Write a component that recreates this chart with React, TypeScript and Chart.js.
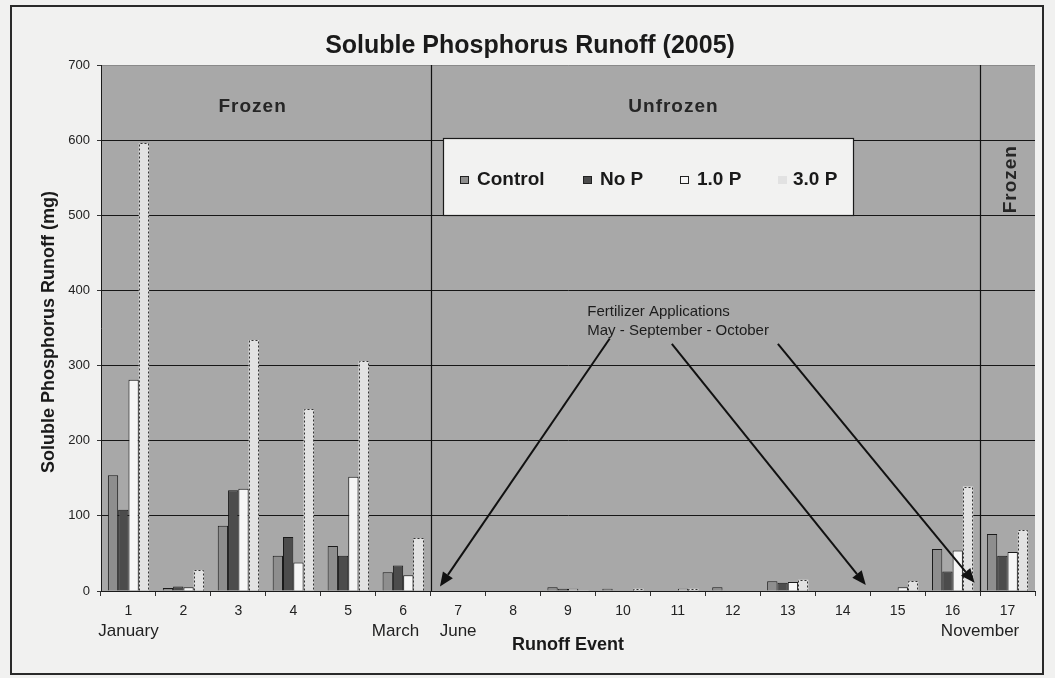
import React, { useEffect, useRef } from 'react';
import { Chart, registerables } from 'chart.js';

Chart.register(...registerables);

// ---- data ----
const events = ['1', '2', '3', '4', '5', '6', '7', '8', '9', '10', '11', '12', '13', '14', '15', '16', '17'];
const seriesNames = ['Control', 'No P', '1.0 P', '3.0 P'];
const control = [154, 4, 87, 47, 60, 25, 0, 0, 5, 3, 0, 5, 13, 0, 0, 56, 76];
const noP = [108, 6, 134, 72, 47, 34, 0, 0, 3, 0, 0, 0, 11, 0, 0, 26, 47];
const p10 = [281, 5, 136, 38, 152, 21, 0, 0, 3, 0, 3, 0, 12, 0, 5, 54, 52];
const p30 = [596, 28, 334, 242, 306, 70, 0, 0, 1, 3, 3, 0, 15, 0, 13, 139, 81];
const yTicks = [0, 100, 200, 300, 400, 500, 600, 700];
const monthLabels = ['January', 'March', 'June', 'November'];

const TITLE = 'Soluble Phosphorus Runoff (2005)';
const Y_TITLE = 'Soluble Phosphorus Runoff (mg)';
const X_TITLE = 'Runoff Event';
const NOTE = ['Fertilizer Applications', 'May - September - October'];

const FONT = '"Liberation Sans", Arial, sans-serif';

function arrow(ctx: CanvasRenderingContext2D, x1: number, y1: number, x2: number, y2: number) {
  const ang = Math.atan2(y2 - y1, x2 - x1);
  const len = 14;
  const hw = 6;
  const bx = x2 - len * Math.cos(ang);
  const by = y2 - len * Math.sin(ang);
  ctx.beginPath();
  ctx.moveTo(x1, y1);
  ctx.lineTo(bx, by);
  ctx.strokeStyle = '#111';
  ctx.lineWidth = 2;
  ctx.stroke();
  ctx.beginPath();
  ctx.moveTo(x2, y2);
  ctx.lineTo(bx + hw * Math.sin(ang), by - hw * Math.cos(ang));
  ctx.lineTo(bx - hw * Math.sin(ang), by + hw * Math.cos(ang));
  ctx.closePath();
  ctx.fillStyle = '#111';
  ctx.fill();
}

const decor = {
  id: 'decor',
  beforeDraw(chart: any) {
    const { ctx, chartArea: ca, width, height } = chart;
    ctx.save();
    ctx.fillStyle = '#f1f1f0';
    ctx.fillRect(0, 0, width, height);
    ctx.strokeStyle = '#2a2a2a';
    ctx.lineWidth = 2;
    ctx.strokeRect(11, 6, 1032, 668);
    ctx.fillStyle = '#a8a8a8';
    ctx.fillRect(ca.left, ca.top, ca.right - ca.left, ca.bottom - ca.top);
    ctx.restore();
  },
  afterDatasetsDraw(chart: any) {
    const { ctx, chartArea: ca } = chart;
    const xs = chart.scales.x;
    const ys = chart.scales.y;
    const X = (i: number) => xs.getPixelForValue(i);
    const Y = (v: number) => ys.getPixelForValue(v);
    ctx.save();

    // dotted outline of 3.0 P bars
    const meta = chart.getDatasetMeta(3);
    ctx.setLineDash([2, 2]);
    ctx.strokeStyle = '#333';
    ctx.lineWidth = 1;
    meta.data.forEach((bar: any) => {
      const p = bar.getProps(['x', 'y', 'base', 'width'], true);
      if (p.base - p.y < 0.5) return;
      const l = Math.round(p.x - p.width / 2) + 0.5;
      const r = Math.round(p.x + p.width / 2) - 0.5;
      const t = Math.round(p.y) + 0.5;
      ctx.beginPath();
      ctx.moveTo(l, p.base);
      ctx.lineTo(l, t);
      ctx.lineTo(r, t);
      ctx.lineTo(r, p.base);
      ctx.stroke();
    });
    ctx.setLineDash([]);

    // dividers between frozen / unfrozen periods
    ctx.strokeStyle = '#111';
    ctx.lineWidth = 1.2;
    [5.5, 15.5].forEach((b) => {
      const x = Math.round(X(b)) + 0.5;
      ctx.beginPath();
      ctx.moveTo(x, ca.top);
      ctx.lineTo(x, ca.bottom);
      ctx.stroke();
    });

    // period labels
    ctx.fillStyle = '#262626';
    ctx.font = `bold 19px ${FONT}`;
    ctx.textAlign = 'center';
    ctx.textBaseline = 'middle';
    (ctx as any).letterSpacing = '1px';
    ctx.fillText('Frozen', X(2.26), Y(645));
    ctx.fillText('Unfrozen', X(9.92), Y(645));
    ctx.save();
    ctx.translate(X(16.05), Y(548));
    ctx.rotate(-Math.PI / 2);
    ctx.fillText('Frozen', 0, 0);
    ctx.restore();
    (ctx as any).letterSpacing = '0px';

    // fertilizer note + arrows
    ctx.fillStyle = '#1c1c1c';
    ctx.font = `15px ${FONT}`;
    ctx.textAlign = 'left';
    ctx.fillText(NOTE[0], X(8.35), Y(371));
    ctx.fillText(NOTE[1], X(8.35), Y(346));
    arrow(ctx, X(8.76), Y(336), X(5.67), Y(6));
    arrow(ctx, X(9.89), Y(329), X(13.42), Y(8));
    arrow(ctx, X(11.82), Y(329), X(15.4), Y(11));

    // legend box
    const lx = ca.left + 342;
    const ly = ca.top + 73;
    ctx.fillStyle = '#f2f2f1';
    ctx.fillRect(lx, ly, 410, 77);
    ctx.strokeStyle = '#1a1a1a';
    ctx.lineWidth = 1.2;
    ctx.strokeRect(lx + 0.5, ly + 0.5, 410, 77);
    const offs = [17, 140, 237, 335];
    ctx.font = `bold 19px ${FONT}`;
    ctx.textBaseline = 'middle';
    chart.data.datasets.forEach((ds: any, i: number) => {
      const sx = lx + offs[i];
      const sy = ly + 42;
      ctx.fillStyle = ds.backgroundColor;
      ctx.fillRect(sx, sy - 4, 9, 8);
      if (i < 3) {
        ctx.strokeStyle = '#222';
        ctx.lineWidth = 1;
        ctx.strokeRect(sx + 0.5, sy - 3.5, 8, 7);
      }
      ctx.fillStyle = '#1a1a1a';
      ctx.fillText(ds.label, sx + (i === 3 ? 15 : 17), sy);
    });
    ctx.restore();
  },
  afterDraw(chart: any) {
    const { ctx, chartArea: ca } = chart;
    const xs = chart.scales.x;
    const X = (i: number) => xs.getPixelForValue(i);
    ctx.save();
    ctx.fillStyle = '#1a1a1a';
    ctx.textAlign = 'center';
    ctx.textBaseline = 'middle';
    ctx.font = `bold 25px ${FONT}`;
    ctx.fillText(TITLE, 530, 46);

    ctx.save();
    ctx.translate(49, (ca.top + ca.bottom) / 2 + 4);
    ctx.rotate(-Math.PI / 2);
    ctx.font = `bold 18px ${FONT}`;
    ctx.fillText(Y_TITLE, 0, 0);
    ctx.restore();

    ctx.font = `bold 18px ${FONT}`;
    ctx.fillText(X_TITLE, (ca.left + ca.right) / 2, ca.bottom + 54);

    ctx.font = `17px ${FONT}`;
    ctx.fillStyle = '#222';
    const mPos = [0, 4.86, 6, 15.5];
    monthLabels.forEach((m, i) => ctx.fillText(m, X(mPos[i]), ca.bottom + 40));
    ctx.restore();
  },
};

export default function App() {
  const ref = useRef<HTMLCanvasElement>(null);
  useEffect(() => {
    if (!ref.current) return;
    const chart = new Chart(ref.current, {
      type: 'bar',
      data: {
        labels: events,
        datasets: [
          { label: seriesNames[0], data: control, backgroundColor: '#8e8e8e', borderColor: '#1a1a1a', borderWidth: 1 },
          { label: seriesNames[1], data: noP, backgroundColor: '#4c4c4c', borderColor: '#1a1a1a', borderWidth: 1 },
          { label: seriesNames[2], data: p10, backgroundColor: '#f6f6f6', borderColor: '#1a1a1a', borderWidth: 1 },
          { label: seriesNames[3], data: p30, backgroundColor: '#e2e2e2', borderWidth: 0 },
        ],
      },
      options: {
        responsive: false,
        animation: false,
        layout: { padding: { left: 0, top: 65, right: 20, bottom: 0 } },
        datasets: { bar: { categoryPercentage: 0.75, barPercentage: 1 } },
        plugins: { legend: { display: false }, tooltip: { enabled: false }, title: { display: false } },
        scales: {
          x: {
            afterFit: (s: any) => { s.height = 87; },
            grid: { drawOnChartArea: false, tickLength: 5, color: '#333' },
            border: { display: true, color: '#1a1a1a', width: 1 },
            ticks: { font: { family: FONT, size: 14 }, color: '#222', padding: 7, maxRotation: 0, autoSkip: false },
          },
          y: {
            min: 0,
            max: 700,
            afterFit: (s: any) => { s.width = 101; },
            afterBuildTicks: (s: any) => { s.ticks = yTicks.map((v) => ({ value: v })); },
            grid: {
              color: (c: any) => (c.tick && c.tick.value === 700 ? '#8a8a8a' : '#161616'),
              tickColor: '#333',
              tickLength: 4,
              lineWidth: 1,
            },
            border: { display: true, color: '#1a1a1a', width: 1 },
            ticks: { font: { family: FONT, size: 13 }, color: '#222', padding: 7 },
          },
        },
      },
      plugins: [decor],
    } as any);
    return () => chart.destroy();
  }, []);
  return (
    <div style={{ position: 'fixed', left: 0, top: 0, width: 1055, height: 678 }}>
      <canvas ref={ref} width={1055} height={678} style={{ display: 'block' }} />
    </div>
  );
}
